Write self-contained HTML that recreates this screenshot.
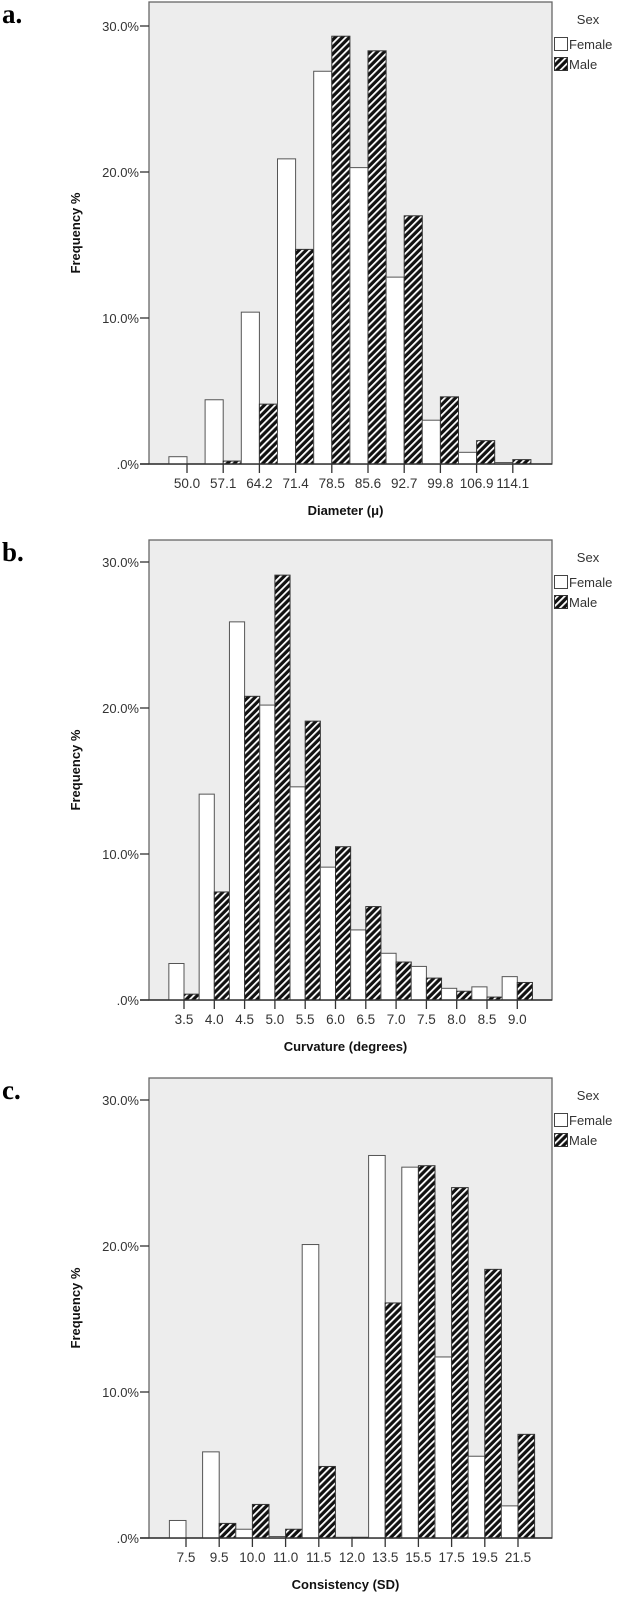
<!DOCTYPE html>
<html><head><meta charset="utf-8"><style>
body{margin:0;background:#fff;width:627px;height:1596px;overflow:hidden}
svg text{font-family:"Liberation Sans",sans-serif}
svg text.serif{font-family:"Liberation Serif",serif}
</style></head><body>
<svg id="root" width="627" height="1596" viewBox="0 0 627 1596">
<defs>
<pattern id="hatch" patternUnits="userSpaceOnUse" width="5" height="5" patternTransform="rotate(45)">
<rect width="5" height="5" fill="#111"/><rect x="0" y="0" width="1.8" height="5" fill="#fff"/>
</pattern>
</defs>
</svg>
<script>
const aCategories=["50.0","57.1","64.2","71.4","78.5","85.6","92.7","99.8","106.9","114.1"];
const aFemale=[0.5,4.4,10.4,20.9,26.9,20.3,12.8,3.0,0.8,0.1];
const aMale=[0,0.2,4.1,14.7,29.3,28.3,17.0,4.6,1.6,0.3];
const bCategories=["3.5","4.0","4.5","5.0","5.5","6.0","6.5","7.0","7.5","8.0","8.5","9.0"];
const bFemale=[2.5,14.1,25.9,20.2,14.6,9.1,4.8,3.2,2.3,0.8,0.9,1.6];
const bMale=[0.4,7.4,20.8,29.1,19.1,10.5,6.4,2.6,1.5,0.6,0.2,1.2];
const cCategories=["7.5","9.5","10.0","11.0","11.5","12.0","13.5","15.5","17.5","19.5","21.5"];
const cFemale=[1.2,5.9,0.6,0.1,20.1,0.05,26.2,25.4,12.4,5.6,2.2];
const cMale=[0,1.0,2.3,0.6,4.9,0.05,16.1,25.5,24.0,18.4,7.1];
const yTicks=[0,10,20,30];
const yTickLabels=[".0%","10.0%","20.0%","30.0%"];

const NS="http://www.w3.org/2000/svg";
const root=document.getElementById('root');
function mk(tag,attrs,parent,text){const e=document.createElementNS(NS,tag);for(const k in attrs)e.setAttribute(k,attrs[k]);if(text!==undefined)e.textContent=text;(parent||root).appendChild(e);return e;}

function chart(key,letter,top,zeroY,firstX,step,cats,fem,male,xtitle){
  const g=mk('g',{});
  
  
  const left=149,right=552;
  const y=v=>zeroY-v*14.6;
  const x=i=>firstX+i*step;
  const bw=step/2;
  const lab=mk('text',{class:'serif',x:2,y:top+21,'font-size':27,'font-weight':'bold',fill:'#000'},g,letter);
  
  
  const fr=mk('rect',{x:left,y:top,width:right-left,height:zeroY-top,fill:'#ededed',stroke:'#666','stroke-width':1.3},g);
  
  
  yTicks.forEach((t,i)=>{
    const tk=mk('line',{x1:left-9,x2:left,y1:y(t),y2:y(t),stroke:'#333','stroke-width':1.3},g);
    
    
    const tl=mk('text',{x:left-10,y:y(t)+5,'font-size':13,'text-anchor':'end',fill:'#333'},g,yTickLabels[i]);
    
    
  });
  cats.forEach((c,i)=>{
    const f=mk('rect',{x:x(i)-bw,y:y(fem[i]),width:bw,height:zeroY-y(fem[i]),fill:'#fff',stroke:'#555','stroke-width':1},g);
    
    
    const m=mk('rect',{x:x(i),y:y(male[i]),width:bw,height:zeroY-y(male[i]),fill:'url(#hatch)',stroke:'#333','stroke-width':1},g);
    
    
    const tk=mk('line',{x1:x(i),x2:x(i),y1:zeroY,y2:zeroY+9,stroke:'#333','stroke-width':1.3},g);
    
    
    const tl=mk('text',{x:x(i),y:zeroY+24,'font-size':13.5,'text-anchor':'middle',fill:'#333'},g,c);
    
    
  });
  const ax=mk('line',{x1:left-9,x2:right,y1:zeroY,y2:zeroY,stroke:'#333','stroke-width':1.5},g);
  
  
  const xt=mk('text',{x:(left+right)/2-5,y:zeroY+51,'font-size':13,'font-weight':'bold','text-anchor':'middle',fill:'#111'},g,xtitle);
  
  
  const cy=(top+zeroY)/2;
  const yt=mk('text',{x:80,y:cy,'font-size':13,'font-weight':'bold','text-anchor':'middle',fill:'#111',transform:'rotate(-90 80 '+cy+')'},g,'Frequency %');
  
  
  const sx=mk('text',{x:588,y:top+22,'font-size':13,'text-anchor':'middle',fill:'#333'},g,'Sex');
  
  
  const lf=mk('rect',{x:554.5,y:top+35.5,width:13,height:13,fill:'#fff',stroke:'#444'},g);
  
  
  const lft=mk('text',{x:569,y:top+47,'font-size':13,fill:'#333'},g,'Female');
  
  
  const lm=mk('rect',{x:554.5,y:top+55.5,width:13,height:13,fill:'url(#hatch)',stroke:'#333'},g);
  
  
  const lmt=mk('text',{x:569,y:top+67,'font-size':13,fill:'#333'},g,'Male');
  
  
}
chart('a','a.',2,464,187,36.2,aCategories,aFemale,aMale,'Diameter (\u03bc)');
chart('b','b.',540,1000,184,30.3,bCategories,bFemale,bMale,'Curvature (degrees)');
chart('c','c.',1078,1538,186,33.2,cCategories,cFemale,cMale,'Consistency (SD)');
</script>
</body></html>
